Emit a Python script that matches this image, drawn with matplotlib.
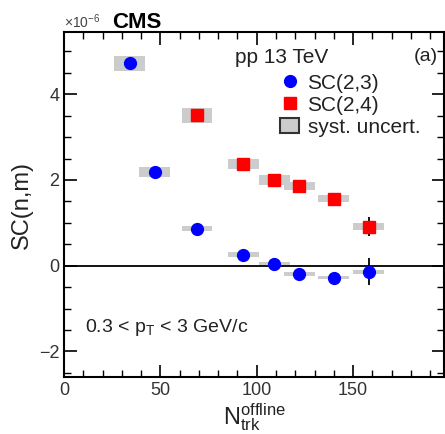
import matplotlib
matplotlib.use("Agg")
import matplotlib.pyplot as plt
from matplotlib.lines import Line2D
from matplotlib.patches import Patch, Rectangle
from matplotlib.ticker import MultipleLocator
import numpy as np

plt.rcParams['font.family'] = ['Liberation Sans', 'DejaVu Sans']
plt.rcParams['mathtext.fontset'] = 'custom'
plt.rcParams['mathtext.rm'] = 'Liberation Sans'
plt.rcParams['mathtext.it'] = 'Liberation Sans'

# SC(2,3), units of 1e-6
n23 = [34, 47, 69, 93, 109, 122, 140, 158]
sc23 = [4.72, 2.19, 0.86, 0.26, 0.05, -0.19, -0.28, -0.14]
stat23 = [0.05, 0.05, 0.05, 0.05, 0.05, 0.06, 0.08, 0.31]
syst23 = [0.17, 0.12, 0.06, 0.05, 0.04, 0.04, 0.04, 0.05]

# SC(2,4)
n24 = [69, 93, 109, 122, 140, 158]
sc24 = [3.51, 2.37, 2.00, 1.86, 1.56, 0.91]
stat24 = [0.05, 0.05, 0.05, 0.05, 0.06, 0.22]
syst24 = [0.17, 0.12, 0.12, 0.10, 0.08, 0.08]

box_halfwidth = 8

fig = plt.figure(figsize=(4.45, 4.34), dpi=100)
ax = fig.add_axes([0.144, 0.131, 0.853, 0.795])

def draw_syst(x, y, e):
    for xi, yi, ei in zip(x, y, e):
        ax.add_patch(Rectangle((xi - box_halfwidth, yi - ei), 2 * box_halfwidth, 2 * ei,
                               facecolor='#cccccc', edgecolor='none', zorder=2))

draw_syst(n23, sc23, syst23)
draw_syst(n24, sc24, syst24)

ax.axhline(0, color='black', lw=1.3, zorder=1)

ax.errorbar(n23, sc23, yerr=stat23, fmt='o', color='blue', ms=8.5,
            ecolor='black', elinewidth=1.3, capsize=0, zorder=3)
ax.errorbar(n24, sc24, yerr=stat24, fmt='s', color='red', ms=8.5,
            ecolor='black', elinewidth=1.3, capsize=0, zorder=3)

ax.set_xlim(0, 197)
ax.set_ylim(-2.6, 5.45)
ax.xaxis.set_major_locator(MultipleLocator(50))
ax.xaxis.set_minor_locator(MultipleLocator(10))
ax.yaxis.set_major_locator(MultipleLocator(2))
ax.yaxis.set_minor_locator(MultipleLocator(0.5))
ax.tick_params(which='both', direction='in', top=True, right=True,
               labelsize=13, colors='black', labelcolor='#333333')
ax.tick_params(which='major', length=9, width=1.2)
ax.tick_params(which='minor', length=5, width=1.0)
for s in ax.spines.values():
    s.set_linewidth(1.5)

ax.set_ylabel('SC(n,m)', fontsize=17, color='#222222', labelpad=4)
ax.set_xlabel(r'N$_{\rm trk}^{\rm offline}$', fontsize=17, color='#222222', labelpad=2)

fig.text(0.144, 0.935, r'$\times10^{-6}$', fontsize=10, color='#444444', ha='left', va='baseline')
fig.text(0.252, 0.935, 'CMS', fontsize=16, fontweight='bold', ha='left', va='baseline')
ax.text(0.985, 0.955, '(a)', transform=ax.transAxes, fontsize=14, ha='right', va='top', color='#222222')
ax.text(0.45, 0.955, 'pp 13 TeV', transform=ax.transAxes, fontsize=15, ha='left', va='top', color='#222222')
ax.text(0.055, 0.145, r'0.3 < p$_{\rm T}$ < 3 GeV/c', transform=ax.transAxes, fontsize=14,
        ha='left', va='center', color='#222222')

handles = [
    Line2D([], [], marker='o', color='blue', ls='none', ms=8.5),
    Line2D([], [], marker='s', color='red', ls='none', ms=8.5),
    Patch(facecolor='#cccccc', edgecolor='#333333', lw=1.5),
]
ax.legend(handles, ['SC(2,3)', 'SC(2,4)', 'syst. uncert.'], loc='upper left',
          bbox_to_anchor=(0.57, 0.88), frameon=False, fontsize=15, handlelength=0.9,
          handletextpad=0.4, labelspacing=0.15, borderaxespad=0, borderpad=0,
          labelcolor='#222222')

fig.savefig('out.png', dpi=100)
